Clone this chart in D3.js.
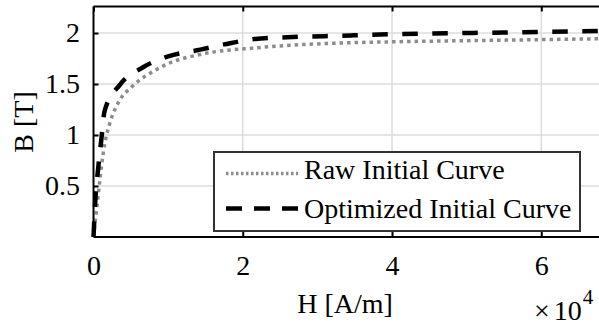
<!DOCTYPE html>
<html>
<head>
<meta charset="utf-8">
<script src="https://cdn.jsdelivr.net/npm/d3@7/dist/d3.min.js"></script>
<style>
  html, body { margin: 0; padding: 0; background: #fff; }
  svg { display: block; font-family: "Liberation Serif", "Times New Roman", serif; }
</style>
</head>
<body>
<svg id="chart" width="599" height="328"></svg>
<script>
// Magnetisation curves: field strength H [A/m] vs flux density B [T]
const rawH = [0, 400, 860, 1300, 1750, 2200, 3500, 5100, 8900, 10000, 14300, 22000, 34500, 41000, 55000, 68000];
const rawB = [0, 0.26, 0.56, 0.82, 1.0, 1.12, 1.34, 1.47, 1.66, 1.70, 1.79, 1.856, 1.905, 1.915, 1.93, 1.944];

const optH = [0, 270, 630, 1070, 1500, 3500, 6700, 10000, 14300, 18300, 22000, 34500, 41000, 55000, 68000];
const optB = [0, 0.39, 0.675, 0.97, 1.24, 1.49, 1.667, 1.77, 1.837, 1.90, 1.944, 1.976, 1.99, 2.005, 2.02];

const xTicks = [0, 20000, 40000, 60000];
const xTickLabels = ["0", "2", "4", "6"];
const yTicks = [0.5, 1, 1.5, 2];
const yTickLabels = ["0.5", "1", "1.5", "2"];
const seriesNames = ["Raw Initial Curve", "Optimized Initial Curve"];

const FONT = "Liberation Serif, Times New Roman, serif";
const FS = 28;

const svg = d3.select("#chart");
const m = { left: 93.5, right: 601, top: 6.5, bottom: 237 };

const x = d3.scaleLinear().domain([0, 68000]).range([m.left, m.right]);
const y = d3.scaleLinear().domain([0, 2.26]).range([m.bottom, m.top]);

// grid
const grid = svg.append("g");
grid.selectAll("line.gx").data(xTicks.slice(1)).join("line")
  .attr("x1", d => x(d)).attr("x2", d => x(d))
  .attr("y1", m.top).attr("y2", m.bottom)
  .attr("stroke", "#dcdcdc").attr("stroke-width", 1.5);
grid.selectAll("line.gy").data(yTicks).join("line")
  .attr("x1", m.left).attr("x2", m.right)
  .attr("y1", d => y(d)).attr("y2", d => y(d))
  .attr("stroke", "#dcdcdc").attr("stroke-width", 1.5);

// curves
const line = d3.line().x(d => x(d[0])).y(d => y(d[1])).curve(d3.curveMonotoneX);

svg.append("path")
  .datum(rawH.map((h, i) => [h, rawB[i]]))
  .attr("d", line)
  .attr("fill", "none").attr("stroke", "#8c8c8c").attr("stroke-width", 3.5)
  .attr("stroke-dasharray", "3.5,4");

svg.append("path")
  .datum(optH.map((h, i) => [h, optB[i]]))
  .attr("d", line)
  .attr("fill", "none").attr("stroke", "#000").attr("stroke-width", 4.5)
  .attr("stroke-dasharray", "15.5,14.5");

// axes
const xAxis = d3.axisBottom(x).tickValues(xTicks).tickSize(-5).tickFormat((d, i) => xTickLabels[i]).tickPadding(18);
const xTop = d3.axisTop(x).tickValues(xTicks).tickSize(-5).tickFormat("");
const yAxis = d3.axisLeft(y).tickValues(yTicks).tickSize(-5).tickFormat((d, i) => yTickLabels[i]).tickPadding(13.5);

function style(g) {
  g.attr("font-family", FONT).attr("font-size", FS);
  g.select(".domain").attr("stroke", "#000").attr("stroke-width", 2);
  g.selectAll(".tick line").attr("stroke", "#000").attr("stroke-width", 2);
  g.selectAll(".tick text").attr("fill", "#000");
}
svg.append("g").attr("transform", `translate(0,${m.bottom})`).call(xAxis).call(style)
  .call(g => g.select(".domain").attr("d", `M${m.left},0H${m.right}`));
svg.append("g").attr("transform", `translate(0,${m.top})`).call(xTop).call(style)
  .call(g => g.select(".domain").attr("d", `M${m.left},0H${m.right}`));
svg.append("g").attr("transform", `translate(${m.left},0)`).call(yAxis).call(style)
  .call(g => g.select(".domain").attr("d", `M0,${m.top}V${m.bottom}`));

// axis labels
svg.append("text").attr("x", 345).attr("y", 313).attr("text-anchor", "middle")
  .attr("font-size", FS).text("H [A/m]");
svg.append("text").attr("transform", "translate(33,122) rotate(-90)").attr("text-anchor", "middle")
  .attr("font-size", FS).text("B [T]");
// exponent of the H axis
const exp = svg.append("text").attr("x", 534).attr("y", 320).attr("font-size", FS);
exp.append("tspan").text("×");
exp.append("tspan").attr("dx", 4).text("10");
exp.append("tspan").attr("dx", 1).attr("dy", -16).attr("font-size", 21).text("4");

// legend
const lg = svg.append("g");
lg.append("rect").attr("x", 214).attr("y", 152).attr("width", 366).attr("height", 79)
  .attr("fill", "#fff").attr("stroke", "#333").attr("stroke-width", 2);
const rows = [
  { name: seriesNames[0], y: 173.5, ty: 179.3, stroke: "#8c8c8c", w: 3.5, dash: "2.5,2.5" },
  { name: seriesNames[1], y: 208.5, ty: 218.3, stroke: "#000", w: 4.5, dash: "16,12" }
];
rows.forEach(r => {
  lg.append("line").attr("x1", 226).attr("x2", 298).attr("y1", r.y).attr("y2", r.y)
    .attr("stroke", r.stroke).attr("stroke-width", r.w).attr("stroke-dasharray", r.dash);
  lg.append("text").attr("x", 304).attr("y", r.ty).attr("font-size", FS).text(r.name);
});
</script>
</body>
</html>
